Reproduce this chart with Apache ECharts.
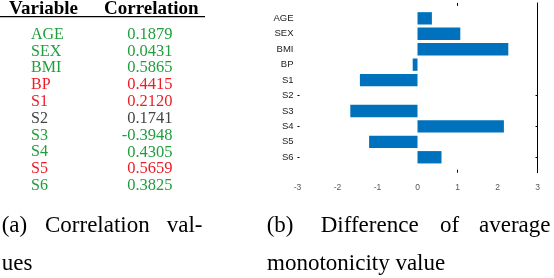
<!DOCTYPE html>
<html>
<head>
<meta charset="utf-8">
<style>
html,body{margin:0;padding:0;background:#fff;}
#chart{width:554px;height:278px;}
</style>
<script src="https://cdn.jsdelivr.net/npm/echarts@6/dist/echarts.min.js"></script>
</head>
<body>
<div id="chart"></div>
<script>
// ---- data ----
const categories = ['AGE', 'SEX', 'BMI', 'BP', 'S1', 'S2', 'S3', 'S4', 'S5', 'S6'];
const diffValues = [0.36, 1.07, 2.27, -0.12, -1.44, 0, -1.68, 2.16, -1.21, 0.60];
const corrValues = ['0.1879', '0.0431', '0.5865', '0.4415', '0.2120', '0.1741', '-0.3948', '0.4305', '0.5659', '0.3825'];
const corrGroup = ['pos', 'pos', 'pos', 'neg', 'neg', 'none', 'pos', 'pos', 'neg', 'pos'];
const xTickValues = [-3, -2, -1, 0, 1, 2, 3];
const tableHeader = ['Variable', 'Correlation'];
const captionA = ['(a)', 'Correlation', 'val-', 'ues'];
const captionB = ['(b)', 'Difference', 'of', 'average', 'monotonicity value'];

// ---- styles ----
const groupColor = { pos: '#1f9e3c', neg: '#ee1c25', none: '#444444' };
const barColor = '#0072BD';

const axisData = [''].concat(categories, ['']);
const barData = [null].concat(diffValues, [null]);
const tickIdx = (i) => i === 6 || i === 8 || i === 10;

const graphics = [];
// table header
graphics.push({ type: 'text', x: 9, y: 9, style: { text: tableHeader[0], font: 'bold 19px "Liberation Serif"', fill: '#000', align: 'left', verticalAlign: 'middle' } });
graphics.push({ type: 'text', x: 104, y: 9, style: { text: tableHeader[1], font: 'bold 19px "Liberation Serif"', fill: '#000', align: 'left', verticalAlign: 'middle' } });
graphics.push({ type: 'line', shape: { x1: 0, y1: 16.7, x2: 205, y2: 16.7 }, style: { stroke: '#000', lineWidth: 1.3 } });
// table rows
categories.forEach((c, i) => {
  const y = 34.5 + i * 16.82;
  const col = groupColor[corrGroup[i]];
  graphics.push({ type: 'text', x: 31, y: y, style: { text: c, font: '16px "Liberation Serif"', fill: col, align: 'left', verticalAlign: 'middle' } });
  graphics.push({ type: 'text', x: 172.5, y: y, style: { text: corrValues[i], font: '16.5px "Liberation Serif"', fill: col, align: 'right', verticalAlign: 'middle' } });
});
// captions
const capFont = '23px "Liberation Serif"';
const capA = [[captionA[0], 1.7, 226], [captionA[1], 45, 226], [captionA[2], 166.7, 226], [captionA[3], 1.7, 264]];
const capB = [[captionB[0], 266.7, 226], [captionB[1], 320.7, 226], [captionB[2], 440, 226], [captionB[3], 479, 226], [captionB[4], 267, 264]];
capA.concat(capB).forEach(([t, x, y]) => {
  graphics.push({ type: 'text', x: x, y: y, style: { text: t, font: capFont, fill: '#000', align: 'left', verticalAlign: 'middle' } });
});

const chart = echarts.init(document.getElementById('chart'), null, { renderer: 'canvas' });
chart.setOption({
  animation: false,
  backgroundColor: '#fff',
  grid: { left: 297.5, right: 16.5, top: 2.9, height: 169.8, containLabel: false },
  xAxis: [
    {
      type: 'value', min: -3, max: 3, interval: 1, position: 'bottom',
      axisLine: { show: false, onZero: false },
      splitLine: { show: false },
      axisTick: { show: true, inside: true, length: 3, customValues: [1], lineStyle: { color: '#000' } },
      axisLabel: { show: true, margin: 10, fontSize: 8.5, color: '#555', fontFamily: 'Liberation Sans', customValues: xTickValues }
    },
    {
      type: 'value', min: -3, max: 3, interval: 1, position: 'top',
      axisLine: { show: false, onZero: false },
      splitLine: { show: false },
      axisTick: { show: true, inside: true, length: 3, customValues: [1], lineStyle: { color: '#000' } },
      axisLabel: { show: false }
    }
  ],
  yAxis: [
    {
      type: 'category', data: axisData, inverse: true, boundaryGap: false, position: 'left',
      axisLine: { show: false, onZero: false },
      axisTick: { show: true, inside: true, length: 2, interval: tickIdx, lineStyle: { color: '#000' } },
      axisLabel: { interval: 0, margin: 4, fontSize: 9.5, color: '#222', fontFamily: 'Liberation Sans' },
      splitLine: { show: false }
    },
    {
      type: 'category', data: axisData, inverse: true, boundaryGap: false, position: 'right',
      axisLine: { show: true, onZero: false, lineStyle: { color: '#000', width: 1 } },
      axisTick: { show: true, inside: true, length: 2, interval: tickIdx, lineStyle: { color: '#000' } },
      axisLabel: { show: false },
      splitLine: { show: false }
    }
  ],
  series: [
    {
      type: 'bar', xAxisIndex: 0, yAxisIndex: 0, data: barData, barWidth: '80%',
      itemStyle: { color: barColor }
    }
  ],
  graphic: graphics
});
</script>
</body>
</html>
